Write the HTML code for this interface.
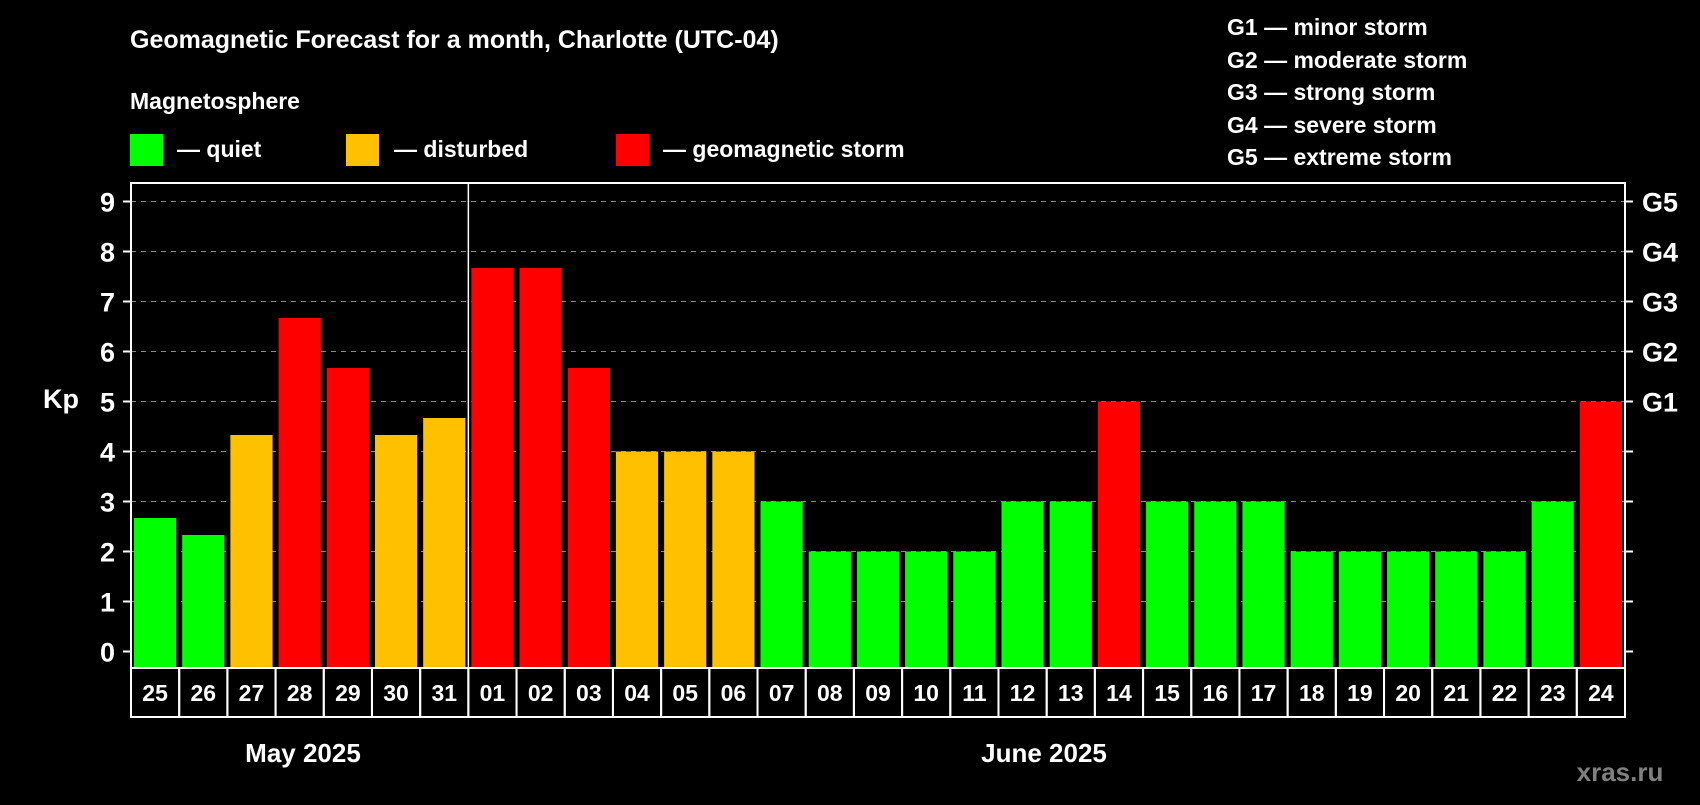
<!DOCTYPE html>
<html><head><meta charset="utf-8"><style>
html,body{margin:0;padding:0;background:#000;}
svg text{font-family:"Liberation Sans",sans-serif;font-weight:bold;fill:#fff;}
</style></head><body>
<svg id="c" width="1700" height="800" viewBox="0 0 1700 800" xmlns="http://www.w3.org/2000/svg">
<rect width="1700" height="800" fill="#000"/>
<text x="130" y="48" font-size="25">Geomagnetic Forecast for a month, Charlotte (UTC-04)</text>
<text x="130" y="109" font-size="23">Magnetosphere</text>
<rect x="130" y="134" width="33" height="32" fill="#00ff00"/>
<text x="177" y="157" font-size="23">— quiet</text>
<rect x="346" y="134" width="33" height="32" fill="#ffc000"/>
<text x="394" y="157" font-size="23">— disturbed</text>
<rect x="616" y="134" width="33" height="32" fill="#ff0000"/>
<text x="663" y="157" font-size="23">— geomagnetic storm</text>
<g font-size="23">
<text x="1227" y="35">G1 — minor storm</text>
<text x="1227" y="68">G2 — moderate storm</text>
<text x="1227" y="100">G3 — strong storm</text>
<text x="1227" y="133">G4 — severe storm</text>
<text x="1227" y="165">G5 — extreme storm</text>
</g>
<text x="43" y="408" font-size="27">Kp</text>
<g id="plot"></g>
<text x="303" y="762" font-size="26" text-anchor="middle">May 2025</text>
<text x="1044" y="762" font-size="26" text-anchor="middle">June 2025</text>
<text x="1620" y="781" font-size="26" text-anchor="middle" style="fill:#808080">xras.ru</text>
</svg>
<script>
const days=["25","26","27","28","29","30","31","01","02","03","04","05","06","07","08","09","10","11","12","13","14","15","16","17","18","19","20","21","22","23","24"];
const kp=[2.67,2.33,4.33,6.67,5.67,4.33,4.67,7.67,7.67,5.67,4,4,4,3,2,2,2,2,3,3,5,3,3,3,2,2,2,2,2,3,5];
const yTicks=[0,1,2,3,4,5,6,7,8,9];
const gLabels=[[5,"G1"],[6,"G2"],[7,"G3"],[8,"G4"],[9,"G5"]];
const L=131,R=1625,T=183,B=668,DB=717;
const y=v=>651.5-v*50;
const slot=(R-L)/days.length;
const x=i=>L+i*slot;
const NS="http://www.w3.org/2000/svg";
const g=document.getElementById('plot');
function mk(t,a){const e=document.createElementNS(NS,t);for(const k in a)e.setAttribute(k,a[k]);g.appendChild(e);return e;}
yTicks.forEach(v=>{
 if(v>0){const l=mk('line',{x1:L,x2:R,y1:y(v),y2:y(v),stroke:'#888','stroke-dasharray':'5,5','stroke-width':1});
 
 }
 const t1=mk('line',{x1:L-8,x2:L,y1:y(v),y2:y(v),stroke:'#fff','stroke-width':2});
 
 
 const t2=mk('line',{x1:R,x2:R+8,y1:y(v),y2:y(v),stroke:'#fff','stroke-width':2});
 
 
 const tx=mk('text',{x:L-16,y:y(v)+10,'font-size':27,'text-anchor':'end'});tx.textContent=v;
 
 
});
gLabels.forEach(([v,s])=>{const tx=mk('text',{x:R+17,y:y(v)+10,'font-size':27});tx.textContent=s;
 
 });
kp.forEach((v,i)=>{
 const c=v>=5?'#ff0000':v>=4?'#ffc000':'#00ff00';
 const r=mk('rect',{x:x(i)+3,y:y(v),width:slot-6,height:B-y(v),fill:c});
 
 
 const cell=mk('rect',{x:x(i),y:B,width:slot,height:DB-B,fill:'none',stroke:'#fff','stroke-width':2});
 
 
 const tx=mk('text',{x:x(i)+slot/2,y:B+33,'font-size':23,'text-anchor':'middle'});tx.textContent=days[i];
 
 
});
const f=mk('rect',{x:L,y:T,width:R-L,height:B-T,fill:'none',stroke:'#fff','stroke-width':2});


const sep=mk('line',{x1:x(7),x2:x(7),y1:T,y2:B,stroke:'#fff','stroke-width':1.5});


</script>
</body></html>
